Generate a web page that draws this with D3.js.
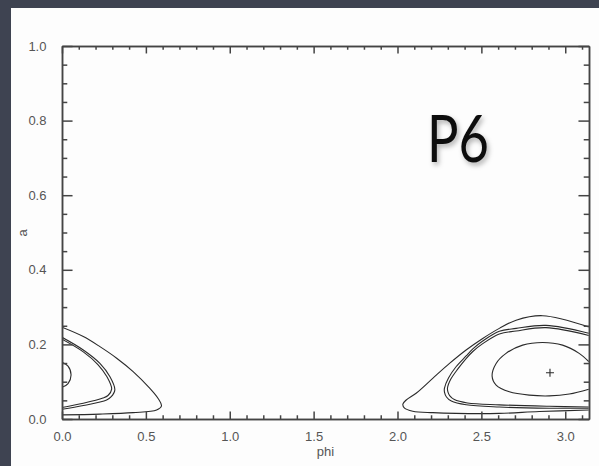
<!DOCTYPE html>
<html>
<head>
<meta charset="utf-8">
<script src="https://cdn.jsdelivr.net/npm/d3@7"></script>
<style>
	body { margin: 0; background: #3e4351; }
	svg { display: block; }
	.axis text { font-family: "Liberation Sans", Arial, sans-serif; font-size: 13px; fill: #555; }
	.axis path, .axis line { stroke: #444; stroke-width: 1.5; }
	.contour { fill: none; stroke: #2a2a2a; stroke-width: 1.1; }
</style>
</head>
<body>
<svg id="chart" width="599" height="466"></svg>
<script>
// tick values / labels
const xMajor = [0, 0.5, 1.0, 1.5, 2.0, 2.5, 3.0];
const xMinor = [0.1, 0.2, 0.3, 0.4, 0.6, 0.7, 0.8, 0.9, 1.1, 1.2, 1.3, 1.4, 1.6, 1.7, 1.8, 1.9,
	2.1, 2.2, 2.3, 2.4, 2.6, 2.7, 2.8, 2.9, 3.1];
const yMajor = [0, 0.2, 0.4, 0.6, 0.8, 1.0];
const yMinor = [0.05, 0.1, 0.15, 0.25, 0.3, 0.35, 0.45, 0.5, 0.55, 0.65, 0.7, 0.75, 0.85, 0.9, 0.95];

// contour curves, [phi, a]
const rightOuter = [[3.14, 0.247], [2.865, 0.277], [2.707, 0.265], [2.607, 0.243], [2.508, 0.216],
	[2.409, 0.185], [2.310, 0.149], [2.210, 0.109], [2.111, 0.069], [2.052, 0.051], [2.032, 0.040],
	[2.042, 0.029], [2.091, 0.021], [2.210, 0.017], [2.349, 0.015], [2.607, 0.015], [2.845, 0.020],
	[3.14, 0.024]];
const rightMidA = [[3.14, 0.230], [2.885, 0.251], [2.707, 0.243], [2.607, 0.235], [2.508, 0.209],
	[2.449, 0.188], [2.409, 0.169], [2.349, 0.140], [2.304, 0.110], [2.280, 0.083], [2.280, 0.072],
	[2.292, 0.059], [2.321, 0.048], [2.409, 0.038], [2.607, 0.032], [2.905, 0.029], [3.14, 0.029]];
const rightMidB = [[3.14, 0.224], [2.885, 0.245], [2.707, 0.236], [2.607, 0.228], [2.508, 0.202],
	[2.449, 0.181], [2.409, 0.162], [2.361, 0.135], [2.318, 0.107], [2.298, 0.083], [2.301, 0.072],
	[2.312, 0.062], [2.339, 0.052], [2.417, 0.043], [2.607, 0.038], [2.905, 0.034], [3.14, 0.032]];
const rightInner = [[3.14, 0.154], [3.083, 0.176], [2.984, 0.198], [2.865, 0.205], [2.746, 0.198],
	[2.647, 0.176], [2.588, 0.149], [2.564, 0.115], [2.588, 0.091], [2.667, 0.073], [2.786, 0.064],
	[2.905, 0.062], [3.024, 0.067], [3.14, 0.080]];
const leftOuter = [[0, 0.246], [0.127, 0.221], [0.226, 0.194], [0.326, 0.163], [0.424, 0.127],
	[0.524, 0.082], [0.573, 0.055], [0.593, 0.035], [0.564, 0.024], [0.424, 0.017], [0.226, 0.013],
	[0, 0.011]];
const leftMidA = [[0, 0.219], [0.127, 0.185], [0.226, 0.149], [0.286, 0.113], [0.315, 0.078],
	[0.292, 0.059], [0.266, 0.051], [0.127, 0.036], [0, 0.026]];
const leftMidB = [[0, 0.214], [0.127, 0.180], [0.214, 0.146], [0.268, 0.113], [0.296, 0.080],
	[0.274, 0.063], [0.244, 0.056], [0.127, 0.042], [0, 0.031]];
const leftInner = [[0, 0.152], [0.036, 0.142], [0.054, 0.118], [0.036, 0.095], [0, 0.085]];
const centre = [2.909, 0.124];

const curves = [rightOuter, rightMidA, rightMidB, rightInner, leftOuter, leftMidA, leftMidB, leftInner];

const svg = d3.select("#chart");

// white slide panel
svg.append("rect")
	.attr("x", 11).attr("y", 8)
	.attr("width", 599).attr("height", 466)
	.attr("fill", "#fdfdfd");

const plotLeft = 62, plotRight = 589, plotTop = 46, plotBottom = 419;

const x = d3.scaleLinear().domain([0, Math.PI]).range([plotLeft, plotRight]);
const y = d3.scaleLinear().domain([0, 1]).range([plotBottom, plotTop]);

const xLen = (plotBottom - plotTop) * 0.02, yLen = (plotRight - plotLeft) * 0.02;

const defs = svg.append("defs");
defs.append("clipPath").attr("id", "plot")
	.append("rect")
	.attr("x", plotLeft).attr("y", plotTop)
	.attr("width", plotRight - plotLeft).attr("height", plotBottom - plotTop);

const line = d3.line()
	.x(d => x(d[0]))
	.y(d => y(d[1]))
	.curve(d3.curveCatmullRom.alpha(0.5));

svg.append("g")
	.attr("clip-path", "url(#plot)")
	.selectAll("path")
	.data(curves).enter()
	.append("path")
	.classed("contour", true)
	.attr("d", line);

// centre marker
svg.append("path")
	.classed("contour", true)
	.attr("d", `M${x(centre[0]) - 4},${y(centre[1])}h8M${x(centre[0])},${y(centre[1]) - 4}v8`);

// axes: majors with labels, minors without, ticks pointing inward
function addAxis(axis, transform, values, len, labels) {
	return svg.append("g")
		.classed("axis", true)
		.attr("transform", transform)
		.call(axis.tickValues(values).tickSize(-len).tickSizeOuter(0)
			.tickPadding(len + 5)
			.tickFormat(labels ? d3.format(".1f") : ""));
}

addAxis(d3.axisBottom(x), `translate(0,${plotBottom})`, xMajor, xLen, true);
addAxis(d3.axisBottom(x), `translate(0,${plotBottom})`, xMinor, xLen / 2, false);
addAxis(d3.axisTop(x), `translate(0,${plotTop})`, xMajor, xLen, false);
addAxis(d3.axisTop(x), `translate(0,${plotTop})`, xMinor, xLen / 2, false);
addAxis(d3.axisLeft(y), `translate(${plotLeft},0)`, yMajor, yLen, true);
addAxis(d3.axisLeft(y), `translate(${plotLeft},0)`, yMinor, yLen / 2, false);
addAxis(d3.axisRight(y), `translate(${plotRight},0)`, yMajor, yLen, false);
addAxis(d3.axisRight(y), `translate(${plotRight},0)`, yMinor, yLen / 2, false);

svg.append("text")
	.attr("x", (plotLeft + plotRight) / 2).attr("y", 456)
	.attr("text-anchor", "middle")
	.attr("font-family", "Liberation Sans, Arial, sans-serif")
	.attr("font-size", 13).attr("fill", "#555")
	.text("phi");

svg.append("text")
	.attr("transform", "translate(27,233) rotate(-90)")
	.attr("text-anchor", "middle")
	.attr("font-family", "Liberation Sans, Arial, sans-serif")
	.attr("font-size", 13).attr("fill", "#555")
	.text("a");

// P6 title
const shadow = defs.append("filter").attr("id", "shadow")
	.attr("x", "-20%").attr("y", "-20%").attr("width", "140%").attr("height", "140%");
shadow.append("feDropShadow")
	.attr("dx", 2).attr("dy", 3).attr("stdDeviation", 2.5)
	.attr("flood-color", "#000").attr("flood-opacity", 0.3);

svg.append("text")
	.attr("x", 427).attr("y", 162)
	.attr("font-family", "Lato, sans-serif")
	.attr("font-size", 66)
	.attr("textLength", 62).attr("lengthAdjust", "spacingAndGlyphs")
	.attr("fill", "#111")
	.attr("filter", "url(#shadow)")
	.text("P6");
</script>
</body>
</html>
